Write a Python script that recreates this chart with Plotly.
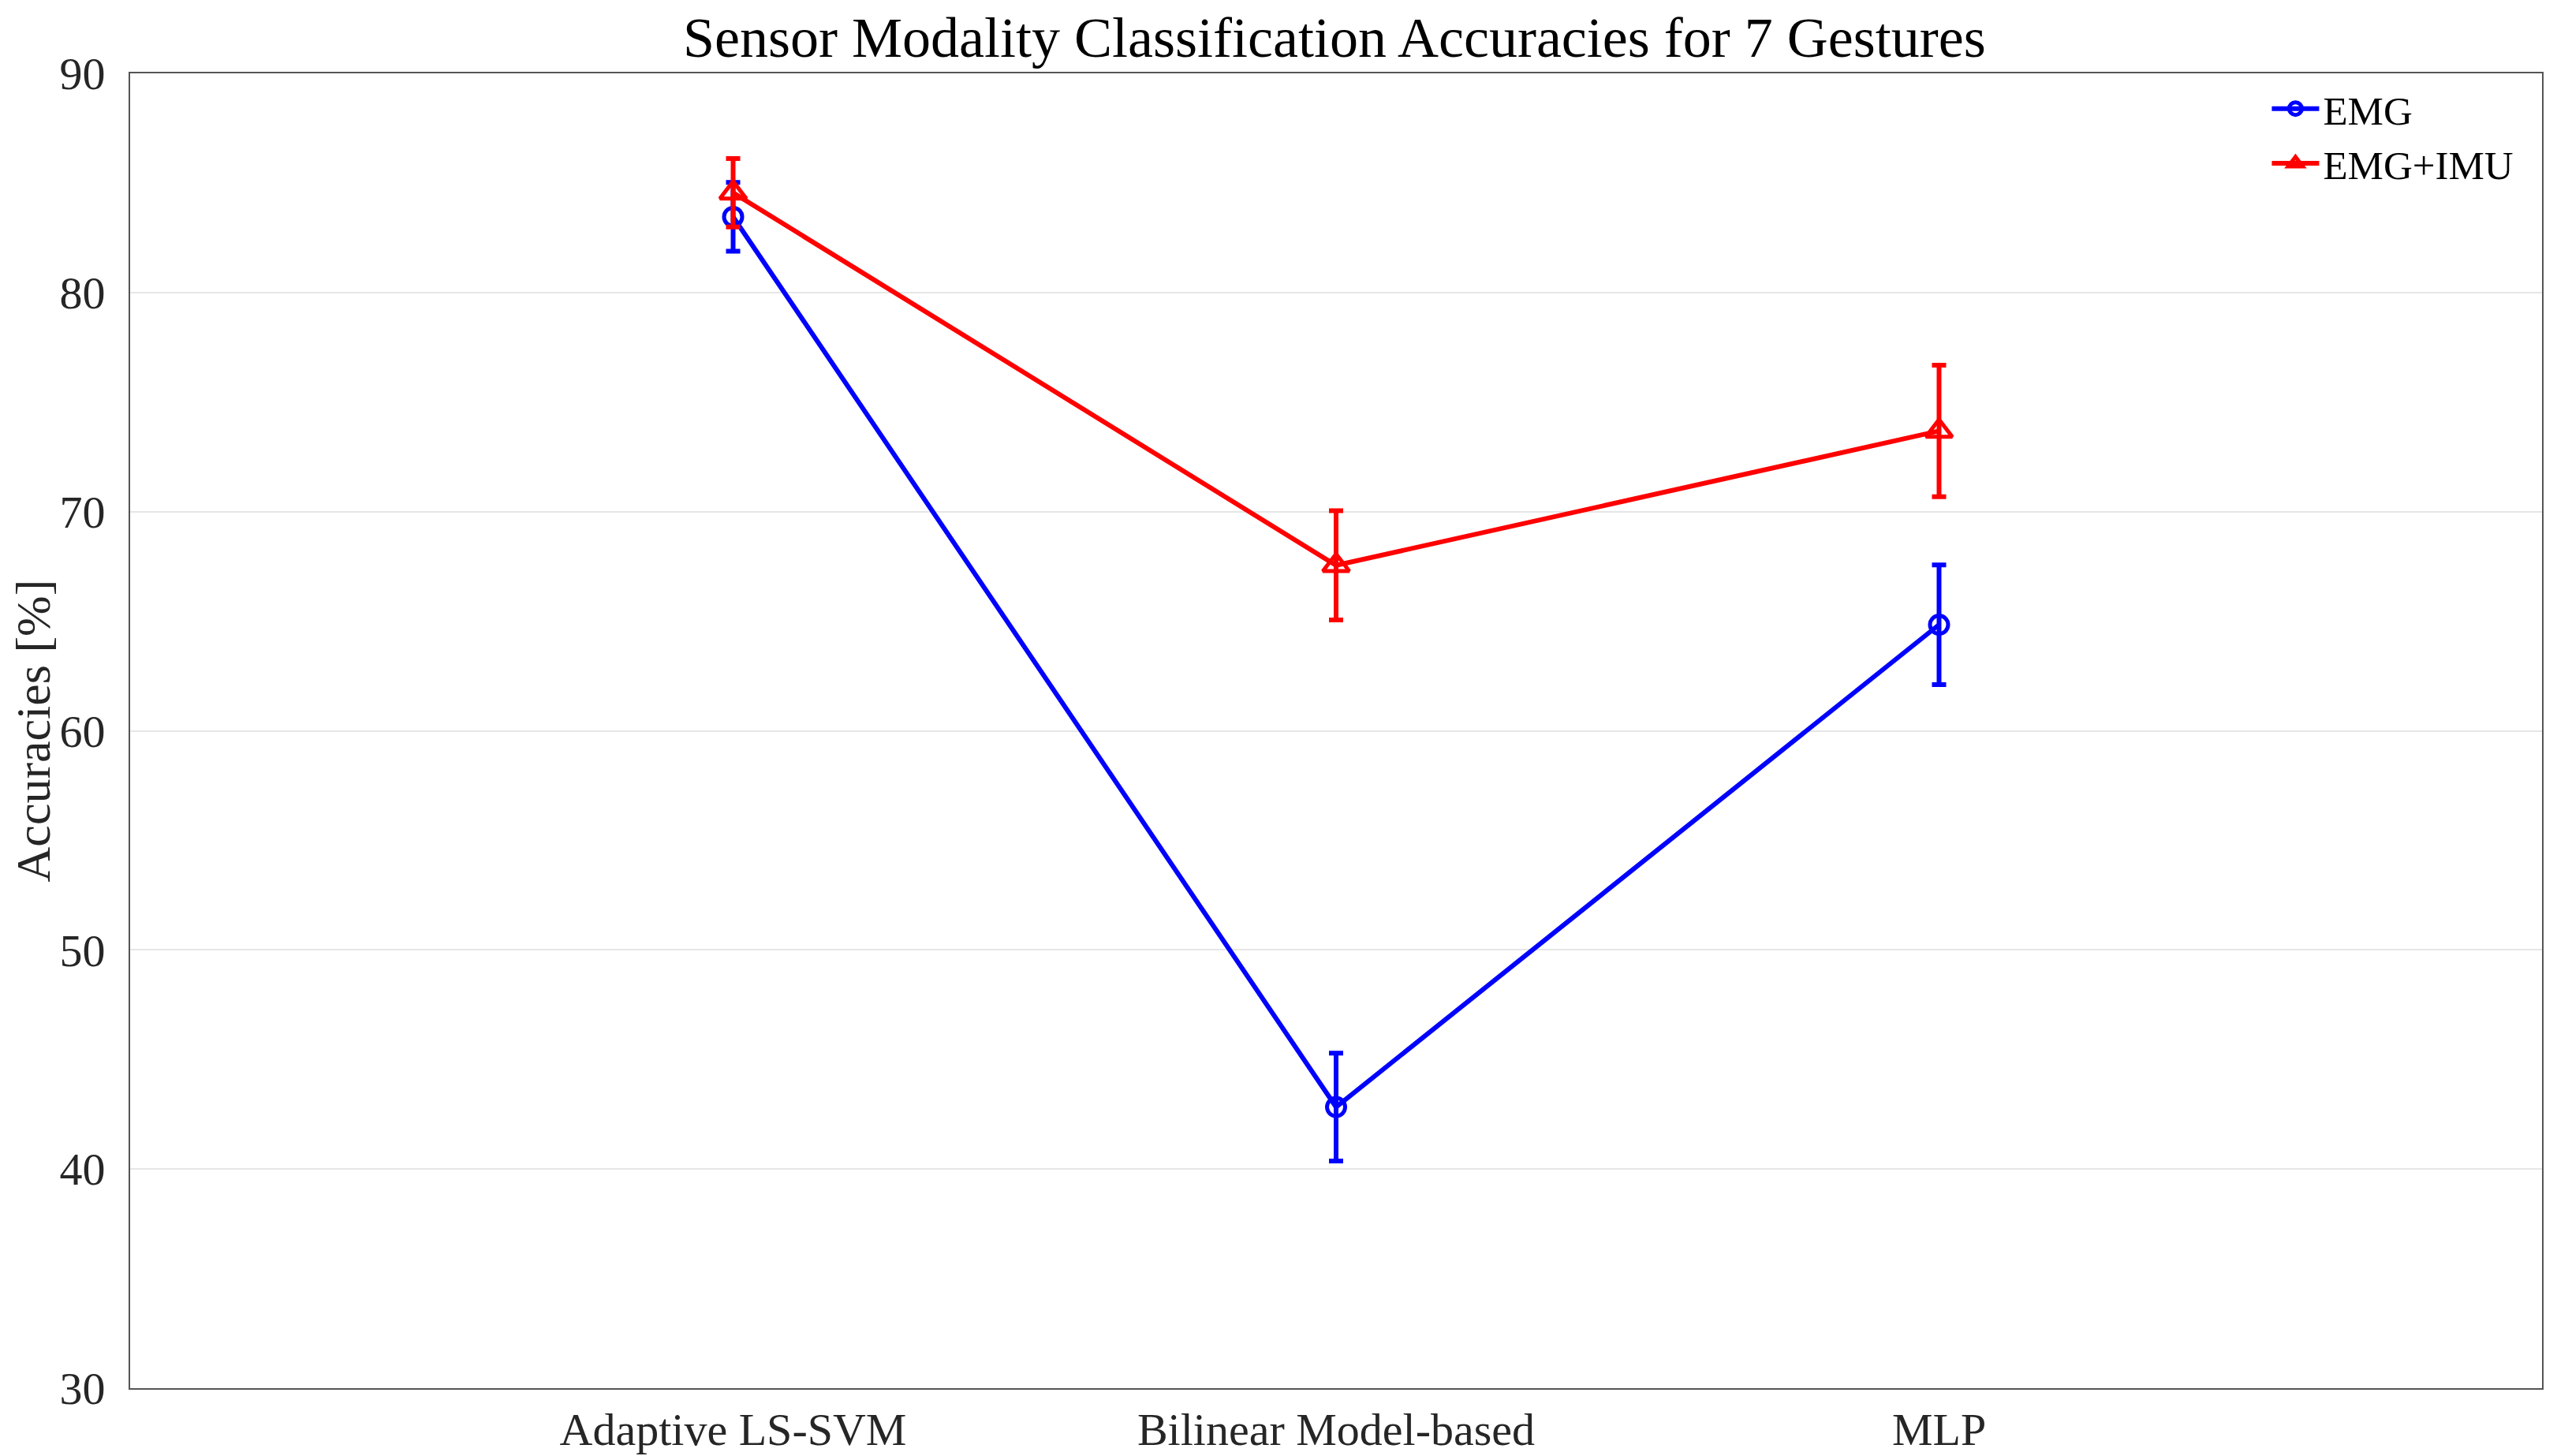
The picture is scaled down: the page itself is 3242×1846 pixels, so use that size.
import plotly.graph_objects as go

categories = ["Adaptive LS-SVM", "Bilinear Model-based", "MLP"]
x_pos = [1, 2, 3]
emg_mean = [83.45, 42.83, 64.84]
emg_err = [1.57, 2.46, 2.73]
emgimu_mean = [84.55, 67.55, 73.68]
emgimu_err = [1.56, 2.49, 3.0]
y_ticks = [30, 40, 50, 60, 70, 80, 90]

FONT = "Liberation Serif"

fig = go.Figure()
fig.add_trace(go.Scatter(
    x=x_pos, y=emg_mean, name="EMG", mode="lines+markers",
    line=dict(color="#0000ff", width=6),
    marker=dict(symbol="circle-open", size=23, color="#0000ff", line=dict(width=5)),
    error_y=dict(type="data", array=emg_err, visible=True, color="#0000ff", thickness=6, width=9),
))
fig.add_trace(go.Scatter(
    x=x_pos, y=emgimu_mean, name="EMG+IMU", mode="lines+markers",
    line=dict(color="#ff0000", width=6),
    marker=dict(symbol="triangle-up-open", size=29, color="#ff0000", line=dict(width=5)),
    error_y=dict(type="data", array=emgimu_err, visible=True, color="#ff0000", thickness=6, width=9),
))

fig.update_layout(
    width=3242, height=1846,
    paper_bgcolor="white", plot_bgcolor="white",
    margin=dict(l=157, r=27, t=85, b=94),
    font=dict(family=FONT, color="#262626", size=58),
    title=dict(text="Sensor Modality Classification Accuracies for 7 Gestures",
               x=0.5194, xanchor="center", y=0.979, yanchor="middle",
               font=dict(family=FONT, size=72, color="black")),
    legend=dict(x=0.99, y=0.997, xanchor="right", yanchor="top",
                bgcolor="rgba(255,255,255,0)", borderwidth=0,
                font=dict(family=FONT, size=51, color="black"),
                itemwidth=60, tracegroupgap=0),
    showlegend=True,
)
fig.update_xaxes(
    range=[0, 4], tickmode="array", tickvals=x_pos, ticktext=categories,
    showgrid=False, zeroline=False, showline=True, linecolor="#555555", linewidth=2,
    mirror=True, ticks="", automargin=False,
    tickfont=dict(family=FONT, size=58, color="#262626"),
)
fig.update_yaxes(
    range=[30, 90], tickmode="array", tickvals=y_ticks,
    showgrid=True, gridcolor="#e6e6e6", gridwidth=2, zeroline=False,
    showline=True, linecolor="#555555", linewidth=2, mirror=True, ticks="",
    ticklabelstandoff=18, automargin=False,
    tickfont=dict(family=FONT, size=58, color="#262626"),
    title=dict(text="Accuracies [%]", font=dict(family=FONT, size=62, color="#262626"), standoff=26),
)

fig.write_html("out.html")
